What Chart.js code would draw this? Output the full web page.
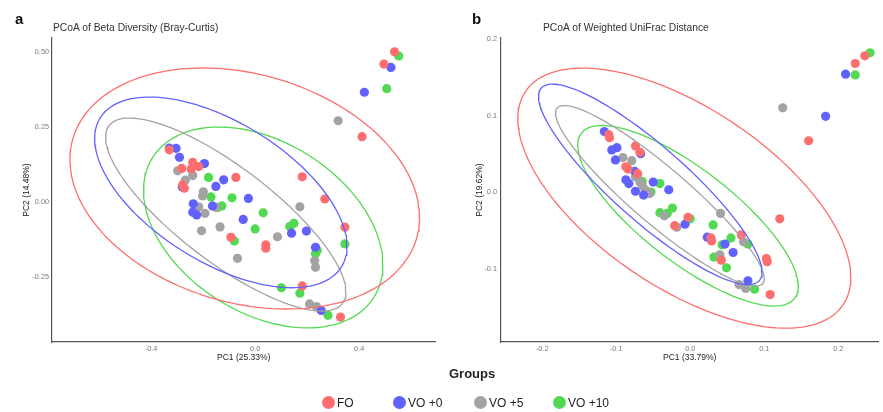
<!DOCTYPE html>
<html>
<head>
<meta charset="utf-8">
<script src="https://cdn.jsdelivr.net/npm/chart.js@4.4.0/dist/chart.umd.min.js"></script>
<style>
  body { margin: 0; background: #fff; font-family: "Liberation Sans", Arial, sans-serif; }
  #wrap { position: relative; width: 883px; height: 412px; overflow: hidden; background: #fff; }
  .box { position: absolute; top: 0; height: 372px; }
  .tag { position: absolute; top: 10px; font-size: 15px; font-weight: bold; color: #111; }
  .ttl { position: absolute; top: 22px; font-size: 10.3px; color: #333; white-space: nowrap; }
  #groups { position: absolute; left: 449px; top: 366px; font-size: 13px; font-weight: bold; color: #222; }
  .item { position: absolute; top: 395px; font-size: 12px; color: #222; line-height: 16px; white-space: nowrap; }
  .dot { display: inline-block; width: 13px; height: 13px; border-radius: 50%; vertical-align: -2px; margin-right: 2px; }
</style>
</head>
<body>
<div id="wrap">
  <div class="box" style="left:0;width:440px"><canvas id="chartA"></canvas></div>
  <div class="box" style="left:440px;width:443px"><canvas id="chartB"></canvas></div>
  <div class="tag" style="left:15px">a</div>
  <div class="ttl" style="left:53px">PCoA of Beta Diversity (Bray-Curtis)</div>
  <div class="tag" style="left:472px">b</div>
  <div class="ttl" style="left:543px">PCoA of Weighted UniFrac Distance</div>
  <div id="groups">Groups</div>
</div>
<script>
// grup dan warna
const groups = ["FO", "VO +0", "VO +5", "VO +10"];
const groupColors = ["#FF6E6E", "#6161FF", "#A3A3A3", "#52D952"];

// --- Panel a: Bray-Curtis (PC1, PC2) ---
const bcFO = [[0.536,0.501],[0.495,0.46],[0.411,0.218],[-0.330,0.174],[-0.240,0.132],[-0.217,0.118],[-0.246,0.110],[-0.282,0.112],[-0.279,0.057],[-0.272,0.046],[-0.074,0.082],[-0.093,-0.118],[0.041,-0.143],[0.041,-0.154],[0.181,0.084],[0.268,0.010],[0.345,-0.084],[0.181,-0.28],[0.328,-0.384]];
const bcVO0 = [[0.522,0.449],[0.420,0.366],[-0.304,0.179],[-0.33,0.18],[-0.291,0.149],[-0.195,0.128],[-0.28,0.05],[-0.121,0.074],[-0.151,0.052],[-0.026,0.012],[-0.238,-0.006],[-0.164,-0.013],[-0.240,-0.034],[-0.225,-0.043],[-0.046,-0.058],[0.140,-0.104],[0.197,-0.097],[0.232,-0.151],[0.254,-0.362]];
const bcVO5 = [[0.319,0.271],[-0.298,0.104],[-0.240,0.088],[-0.268,0.073],[-0.199,0.034],[-0.202,0.020],[-0.217,-0.016],[-0.151,-0.018],[-0.193,-0.038],[-0.206,-0.096],[-0.135,-0.083],[0.086,-0.116],[-0.068,-0.188],[0.172,-0.016],[0.229,-0.196],[0.232,-0.218],[0.209,-0.34],[0.236,-0.349]];
const bcVO10 = [[0.552,0.487],[0.506,0.378],[-0.179,0.082],[-0.170,0.017],[-0.089,0.014],[-0.144,-0.018],[-0.128,-0.013],[0.031,-0.036],[0.0,-0.09],[-0.080,-0.130],[0.149,-0.071],[0.133,-0.082],[0.345,-0.14],[0.239,-0.162],[0.232,-0.173],[0.101,-0.286],[0.172,-0.304],[0.280,-0.378]];
// ellipse per grup: pusat, setengah lebar (x), setengah tinggi (y), cos fase
const bcEllCx = [-0.040, -0.132, -0.113, 0.031];
const bcEllCy = [0.045, 0.032, -0.042, -0.085];
const bcEllW = [0.672, 0.485, 0.462, 0.460];
const bcEllH = [0.402, 0.318, 0.322, 0.335];
const bcEllCos = [-0.24, -0.565, -0.80, -0.37];
const bcXTicks = [-0.4, 0, 0.4];
const bcXLabels = ["-0.4", "0.0", "0.4"];
const bcYTicks = [-0.25, 0, 0.25, 0.5];
const bcYLabels = ["-0.25", "0.00", "0.25", "0.50"];

// --- Panel b: Weighted UniFrac ---
const wuFO = [[0.236,0.178],[0.223,0.168],[0.160,0.067],[-0.110,0.075],[-0.109,0.071],[-0.074,0.060],[-0.068,0.052],[-0.087,0.033],[-0.084,0.030],[-0.071,0.024],[-0.003,-0.033],[-0.021,-0.044],[0.028,-0.060],[0.029,-0.064],[0.069,-0.056],[0.042,-0.089],[0.103,-0.087],[0.104,-0.091],[0.121,-0.035],[0.108,-0.134]];
const wuVO0 = [[0.210,0.154],[0.183,0.099],[-0.116,0.079],[-0.106,0.055],[-0.099,0.058],[-0.067,0.050],[-0.101,0.042],[-0.075,0.027],[-0.087,0.016],[-0.083,0.011],[-0.074,0.001],[-0.063,-0.004],[-0.050,0.013],[-0.029,0.003],[-0.007,-0.042],[0.023,-0.059],[0.047,-0.068],[0.058,-0.079],[0.078,-0.116]];
const wuVO5 = [[0.125,0.110],[-0.091,0.045],[-0.079,0.041],[-0.074,0.020],[-0.068,0.013],[-0.065,0.009],[-0.061,0.003],[-0.055,-0.002],[-0.035,-0.031],[-0.018,-0.046],[0.041,-0.028],[0.072,-0.065],[0.040,-0.082],[0.066,-0.121],[0.075,-0.126]];
const wuVO10 = [[0.243,0.182],[0.223,0.153],[-0.065,0.014],[-0.041,0.011],[-0.053,0.000],[-0.041,-0.027],[-0.031,-0.028],[-0.024,-0.021],[0.0,-0.035],[0.031,-0.043],[0.043,-0.069],[0.055,-0.060],[0.078,-0.068],[0.032,-0.085],[0.049,-0.099],[0.087,-0.127]];
const wuEllCx = [-0.008, -0.054, -0.041, -0.003];
const wuEllCy = [-0.008, 0.010, -0.005, -0.031];
const wuEllW = [0.225, 0.151, 0.141, 0.149];
const wuEllH = [0.170, 0.131, 0.118, 0.118];
const wuEllCos = [-0.61, -0.875, -0.915, -0.78];
const wuXTicks = [-0.2, -0.1, 0, 0.1, 0.2];
const wuXLabels = ["-0.2", "-0.1", "0.0", "0.1", "0.2"];
const wuYTicks = [-0.1, 0, 0.1, 0.2];
const wuYLabels = ["-0.1", "0.0", "0.1", "0.2"];

// titik-titik kurva ellipse dari parameternya
function ellipsePoints(cx, cy, w, h, c) {
  const phi = Math.acos(c);
  const pts = [];
  for (let i = 0; i <= 160; i++) {
    const t = (i / 160) * Math.PI * 2;
    pts.push({ x: cx + w * Math.cos(t), y: cy + h * Math.cos(t - phi) });
  }
  return pts;
}

function buildChart(id, series, ell, axis) {
  const datasets = [];
  series.forEach((pts, i) => {
    datasets.push({
      label: groups[i],
      data: pts.map((p) => ({ x: p[0], y: p[1] })),
      backgroundColor: groupColors[i],
      borderWidth: 0,
      pointRadius: 4.6,
      order: 2,
    });
  });
  groups.forEach((g, i) => {
    datasets.push({
      label: g + " ellipse",
      data: ellipsePoints(ell.cx[i], ell.cy[i], ell.w[i], ell.h[i], ell.c[i]),
      showLine: true,
      fill: false,
      borderColor: groupColors[i],
      borderWidth: 1.3,
      pointRadius: 0,
      tension: 0,
      order: 1,
    });
  });

  const tickFont = { family: "Liberation Sans", size: 7.3 };
  const titleFont = { family: "Liberation Sans", size: 8.5 };

  return new Chart(document.getElementById(id), {
    type: "scatter",
    data: { datasets: datasets },
    options: {
      responsive: true,
      maintainAspectRatio: false,
      animation: false,
      events: [],
      layout: { padding: { top: 38, left: 0, right: axis.padRight, bottom: 0 } },
      plugins: { legend: { display: false }, tooltip: { enabled: false } },
      scales: {
        x: {
          type: "linear",
          min: axis.xMin,
          max: axis.xMax,
          afterBuildTicks: (s) => { s.ticks = axis.xTicks.map((v) => ({ value: v })); },
          afterFit: (s) => { s.height = 30; },
          ticks: { font: tickFont, color: "#7a7a7a", padding: 3, maxRotation: 0, callback: (v, i) => axis.xLabels[i] },
          grid: { display: false, drawTicks: false },
          border: { display: true, color: "#555", width: 1.2 },
          title: { display: true, text: axis.xTitle, font: titleFont, color: "#222", padding: { top: 0, bottom: 9 } },
        },
        y: {
          type: "linear",
          min: axis.yMin,
          max: axis.yMax,
          afterBuildTicks: (s) => { s.ticks = axis.yTicks.map((v) => ({ value: v })); },
          afterFit: (s) => { s.width = axis.yWidth; },
          ticks: { font: tickFont, color: "#7a7a7a", padding: axis.yPad, callback: (v, i) => axis.yLabels[i] },
          grid: { display: false, drawTicks: false },
          border: { display: true, color: "#555", width: 1.2 },
          title: { display: true, text: axis.yTitle, font: titleFont, color: "#222", padding: { top: axis.yTitlePad, bottom: 0 } },
        },
      },
    },
  });
}

buildChart("chartA", [bcFO, bcVO0, bcVO5, bcVO10],
  { cx: bcEllCx, cy: bcEllCy, w: bcEllW, h: bcEllH, c: bcEllCos },
  { xMin: -0.781, xMax: 0.693, yMin: -0.467, yMax: 0.547, xTicks: bcXTicks, xLabels: bcXLabels,
    yTicks: bcYTicks, yLabels: bcYLabels, xTitle: "PC1 (25.33%)", yTitle: "PC2 (14.48%)",
    yWidth: 52, yPad: 3, yTitlePad: 22, padRight: 3 });

buildChart("chartB", [wuFO, wuVO0, wuVO5, wuVO10],
  { cx: wuEllCx, cy: wuEllCy, w: wuEllW, h: wuEllH, c: wuEllCos },
  { xMin: -0.2557, xMax: 0.2543, yMin: -0.196, yMax: 0.2013, xTicks: wuXTicks, xLabels: wuXLabels,
    yTicks: wuYTicks, yLabels: wuYLabels, xTitle: "PC1 (33.79%)", yTitle: "PC2 (19.62%)",
    yWidth: 61, yPad: 4, yTitlePad: 35, padRight: 1 });

// legend bawah
const legendLeft = [322, 393, 474, 553];
groups.forEach((g, i) => {
  const d = document.createElement("div");
  d.className = "item";
  d.style.left = legendLeft[i] + "px";
  d.innerHTML = '<span class="dot" style="background:' + groupColors[i] + '"></span>' + g;
  document.getElementById("wrap").appendChild(d);
});
</script>
</body>
</html>
